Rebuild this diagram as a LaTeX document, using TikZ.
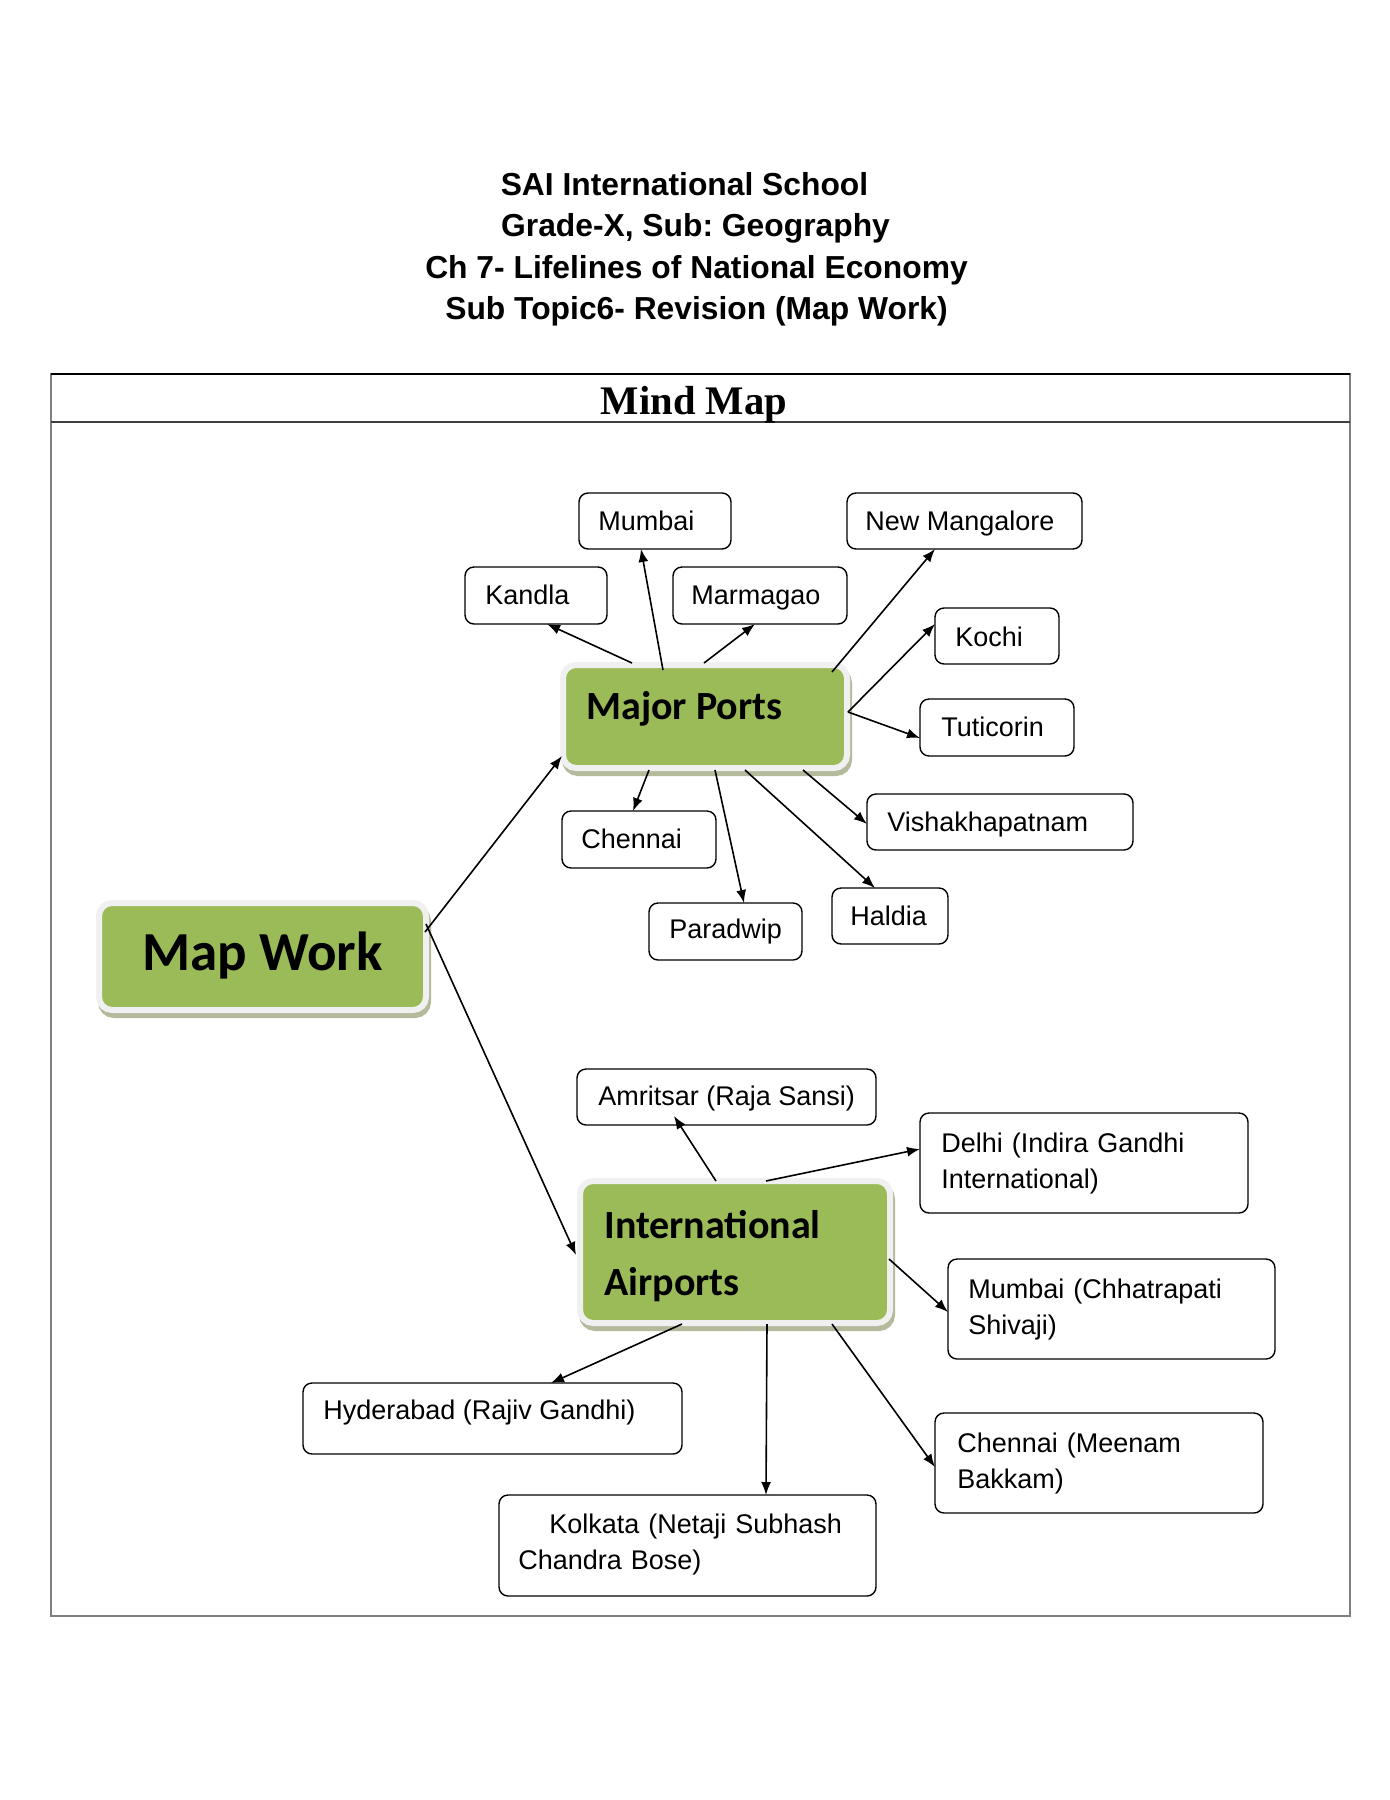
\documentclass[tikz,border=0pt]{standalone}
\usepackage{fontspec}
\setmainfont{Liberation Sans}
\newfontfamily\calib{Carlito}
\newfontfamily\tnr{Liberation Serif}
\usetikzlibrary{calc,arrows.meta,shadows}
\definecolor{mmgreen}{HTML}{9BBB59}
\definecolor{mmedge}{HTML}{F0F0F0}
\definecolor{mmshadow}{HTML}{B3BB9C}
\definecolor{framegray}{HTML}{808080}
\frenchspacing
\newcommand\placebox[6]{%
  \node[#1, minimum width={(#5-#3)*0.5pt}, minimum height={(#6-#4)*0.5pt}] (#2) at ({(#3+#5)/2},{(#4+#6)/2}) {};}
\begin{document}
\begin{tikzpicture}[x=0.5pt,y=-0.5pt,
  pbox/.style={draw=black, line width=0.7pt, rounded corners=4.5pt, inner sep=0pt, outer sep=0pt, fill=white},
  lbl/.style={font=\fontsize{13.5}{18}\selectfont, inner sep=0pt, anchor=base west},
  lbltwo/.style={font=\fontsize{13.5}{18}\selectfont, inner sep=0pt, anchor=base west, text width=210pt, align=left},
  bignode/.style={fill=mmgreen, draw=mmedge, line width=3pt, rounded corners=6.5pt, inner sep=0pt, outer sep=0pt,
    drop shadow={shadow xshift=1pt, shadow yshift=-2.5pt, fill=mmshadow, draw=mmshadow, line width=3pt, opacity=1}},
  bigtxt/.style={font=\calib\bfseries\fontsize{20}{28.5}\selectfont, inner sep=0pt, anchor=base west},
  bigtxttwo/.style={font=\calib\bfseries\fontsize{20}{28.5}\selectfont, inner sep=0pt, anchor=base west, text width=140pt, align=left},
  conn/.style={line width=0.8pt, -{Latex[length=6.5pt,width=5pt]}},
  titletxt/.style={font=\bfseries\fontsize{15.9}{21}\selectfont, inner sep=0pt, anchor=base}
]
\fill[white] (0,0) rectangle (1390,1800);
\useasboundingbox (0,0) rectangle (1390,1800);

% title
\node[titletxt] (t1) at (684.5,195) {SAI International School};
\node[titletxt] (t2) at (695.5,236) {Grade-X, Sub: Geography};
\node[titletxt] (t3) at (696.5,278) {Ch 7- Lifelines of National Economy};
\node[titletxt] (t4) at (696.5,319) {Sub Topic6- Revision (Map Work)};

% frame
\draw[framegray, line width=0.8pt] (51,374) rectangle (1350,1616);
\draw[black, line width=0.6pt] (51,374) -- (1350,374);
\draw[black!75, line width=0.7pt] (51,422) -- (1350,422);
\node[font=\tnr\bfseries\fontsize{20.3}{24}\selectfont, inner sep=0pt, anchor=base] (mm) at (694,414) {Mind Map};

% big nodes
\placebox{bignode}{mw}{99}{903}{426}{1010}
\placebox{bignode}{mp}{563}{665}{847}{768}
\placebox{bignode}{ia}{580}{1181}{890}{1323}
\node[bigtxt, font=\calib\bfseries\fontsize{27.5}{33}\selectfont] (mwt) at (142,970) {Map Work};
\node[bigtxt] (mpt) at (586,719) {Major Ports};
\node[bigtxttwo] (iat) at (604,1238) {International\\Airports};

% small boxes
\placebox{pbox}{kandla}{465}{567}{607}{624}
\placebox{pbox}{mumbai}{579}{493}{731}{549}
\placebox{pbox}{marmagao}{673}{567}{847}{624}
\placebox{pbox}{newmang}{847}{493}{1082}{549}
\placebox{pbox}{kochi}{935}{608}{1059}{664}
\placebox{pbox}{tuticorin}{920}{699}{1074}{756}
\placebox{pbox}{vishakh}{867}{794}{1133}{850}
\placebox{pbox}{haldia}{832}{888}{948}{944}
\placebox{pbox}{chennai}{562}{811}{716}{868}
\placebox{pbox}{paradwip}{649}{903}{802}{960}
\placebox{pbox}{amritsar}{577}{1069}{876}{1125}
\placebox{pbox}{delhi}{920}{1113}{1248}{1213}
\placebox{pbox}{mumbaich}{948}{1259}{1275}{1359}
\placebox{pbox}{chennaim}{935}{1413}{1263}{1513}
\placebox{pbox}{hyderabad}{303}{1383}{682}{1454}
\placebox{pbox}{kolkata}{499}{1495}{876}{1596}

% labels
\node[lbl] (kandla-t) at (485,604) {Kandla};
\node[lbl] (mumbai-t) at (598,530) {Mumbai};
\node[lbl] (marmagao-t) at (691,604) {Marmagao};
\node[lbl] (newmang-t) at (865,530) {New Mangalore};
\node[lbl] (kochi-t) at (955,646) {Kochi};
\node[lbl] (tuticorin-t) at (941,736) {Tuticorin};
\node[lbl] (vishakh-t) at (887,831) {Vishakhapatnam};
\node[lbl] (haldia-t) at (850,925) {Haldia};
\node[lbl] (chennai-t) at (581,848) {Chennai};
\node[lbl] (paradwip-t) at (669,938) {Paradwip};
\node[lbl] (amritsar-t) at (598,1105) {Amritsar (Raja Sansi)};
\node[lbltwo] (delhi-t) at (941,1152) {Delhi (Indira Gandhi\\International)};
\node[lbltwo] (mumbaich-t) at (968,1298) {Mumbai (Chhatrapati\\Shivaji)};
\node[lbltwo] (chennaim-t) at (957,1452) {Chennai (Meenam\\Bakkam)};
\node[lbl] (hyderabad-t) at (323,1419) {Hyderabad (Rajiv Gandhi)};
\node[lbltwo] (kolkata-t) at (518,1533) {\hspace*{15.5pt}Kolkata (Netaji Subhash\\Chandra Bose)};

% connectors: Major Ports
\draw[conn] ($(mp.north west)+(69,-2)$) -- ($(kandla.south west)+(82,0)$);
\draw[conn] ($(mp.north west)+(100,5)$) -- ($(mumbai.south west)+(62,0)$);
\draw[conn] ($(mp.north west)+(141,-2)$) -- ($(marmagao.south west)+(82,0)$);
\draw[conn] ($(mp.north west)+(269,7)$) -- ($(newmang.south west)+(88,0)$);
\draw[conn] ($(mp.north west)+(285,47)$) -- ($(kochi.north west)+(0,16)$);
\draw[conn] ($(mp.north west)+(285,47)$) -- ($(tuticorin.north west)+(0,39)$);
\draw[conn] ($(mp.south west)+(86,2)$) -- ($(chennai.north west)+(71,0)$);
\draw[conn] ($(mp.south west)+(152,2)$) -- ($(paradwip.north west)+(95,0)$);
\draw[conn] ($(mp.south west)+(182,2)$) -- ($(haldia.north west)+(43,0)$);
\draw[conn] ($(mp.south west)+(240,2)$) -- ($(vishakh.north west)+(0,30)$);
% Map Work
\draw[conn] ($(mw.north east)+(-1,29)$) -- ($(mp.south west)+(-1,-12)$);
\draw[conn] ($(mw.north east)+(0,21)$) -- ($(ia.north west)+(-4,74)$);
% Airports
\draw[conn] ($(ia.north west)+(136,0)$) -- ($(amritsar.south west)+(97,-9)$);
\draw[conn] ($(ia.north west)+(186,0)$) -- ($(delhi.north west)+(0,36)$);
\draw[conn] ($(ia.north east)+(-1,78)$) -- ($(mumbaich.north west)+(0,53)$);
\draw[conn] ($(ia.south west)+(252,1)$) -- ($(chennaim.north west)+(0,54)$);
\draw[conn] ($(ia.south west)+(187,1)$) -- ($(kolkata.north west)+(267,0)$);
\draw[conn] ($(ia.south west)+(102,1)$) -- ($(hyderabad.north west)+(248,0)$);
\end{tikzpicture}
\end{document}
